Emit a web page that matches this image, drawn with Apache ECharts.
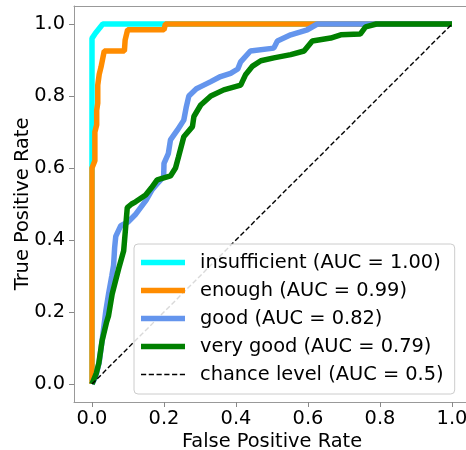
<!DOCTYPE html>
<html>
<head>
<meta charset="utf-8">
<script src="https://cdn.jsdelivr.net/npm/echarts@6/dist/echarts.min.js"></script>
<style>html,body{margin:0;padding:0;background:#fff;overflow:hidden;}#chart{width:466px;height:450px;}</style>
</head>
<body>
<div id="chart"></div>
<script>
const tickValues = [0, 0.2, 0.4, 0.6, 0.8, 1.0];
const seriesNames = ['insufficient (AUC = 1.00)', 'enough (AUC = 0.99)', 'good (AUC = 0.82)', 'very good (AUC = 0.79)', 'chance level (AUC = 0.5)'];

const insufficientFpr = [0, 0, 0.01, 0.03, 1];
const insufficientTpr = [0, 0.96, 0.975, 1, 1];

const enoughFpr = [0, 0, 0.008, 0.008, 0.013, 0.013, 0.016, 0.016, 0.02, 0.025, 0.034, 0.09, 0.092, 0.099, 0.2, 0.204, 1];
const enoughTpr = [0, 0.6, 0.62, 0.7, 0.72, 0.76, 0.78, 0.83, 0.86, 0.88, 0.925, 0.925, 0.955, 0.984, 0.984, 1, 1];

const goodFpr = [0, 0.01, 0.02, 0.028, 0.038, 0.046, 0.055, 0.06, 0.063, 0.066, 0.08, 0.1, 0.12, 0.135, 0.15, 0.167, 0.18, 0.199, 0.2, 0.212, 0.218, 0.237, 0.255, 0.262, 0.269, 0.29, 0.302, 0.33, 0.357, 0.385, 0.405, 0.413, 0.44, 0.505, 0.515, 0.552, 0.598, 0.626, 1];
const goodTpr = [0, 0.02, 0.06, 0.12, 0.2, 0.25, 0.3, 0.33, 0.38, 0.41, 0.44, 0.45, 0.47, 0.49, 0.51, 0.54, 0.555, 0.576, 0.613, 0.64, 0.678, 0.705, 0.733, 0.77, 0.8, 0.82, 0.826, 0.84, 0.854, 0.863, 0.875, 0.895, 0.925, 0.933, 0.953, 0.97, 0.984, 1, 1];

const veryGoodFpr = [0, 0.012, 0.019, 0.028, 0.04, 0.046, 0.056, 0.074, 0.088, 0.093, 0.098, 0.11, 0.121, 0.149, 0.165, 0.181, 0.218, 0.232, 0.24, 0.255, 0.279, 0.283, 0.302, 0.33, 0.366, 0.413, 0.427, 0.446, 0.469, 0.505, 0.552, 0.589, 0.612, 0.663, 0.691, 0.745, 0.76, 0.79, 1];
const veryGoodTpr = [0, 0.03, 0.058, 0.12, 0.17, 0.19, 0.25, 0.32, 0.37, 0.43, 0.49, 0.5, 0.506, 0.525, 0.545, 0.567, 0.578, 0.6, 0.63, 0.687, 0.715, 0.743, 0.775, 0.8, 0.817, 0.83, 0.86, 0.883, 0.898, 0.906, 0.915, 0.925, 0.953, 0.961, 0.97, 0.972, 0.992, 1, 1];

const chanceFpr = [0, 1];
const chanceTpr = [0, 1];

function pairs(xs, ys) { return xs.map((x, i) => [x, ys[i]]); }

const font = 'DejaVu Sans';
const fs = 19.4;
const spine = '#999';
const solidIcon = 'path://M0,0H44V5.5H0Z';
const dashIcon = 'path://M0,0h5v1.4h-5zM7.5,0h5v1.4h-5zM15,0h5v1.4h-5zM22.5,0h5v1.4h-5zM30,0h5v1.4h-5zM37.5,0h5v1.4h-5z';
const chart = echarts.init(document.getElementById('chart'), null, {renderer: 'canvas'});

function curve(name, xs, ys, color, width, type) {
  return {
    name: name, type: 'line', data: pairs(xs, ys), symbol: 'none', showSymbol: false,
    animation: false, silent: true,
    lineStyle: {color: color, width: width, type: type || 'solid'},
    itemStyle: {color: color}
  };
}

chart.setOption({
  animation: false,
  backgroundColor: '#fff',
  grid: {left: 74, top: 6, width: 396, height: 396, containLabel: false, outerBoundsMode: 'none', show: false},
  graphic: [{type: 'rect', left: 462, top: 8, shape: {width: 4, height: 392}, style: {fill: '#fff'}, z: 100, silent: true}],
  xAxis: [{
    type: 'value', min: -0.05, max: 1.05, position: 'bottom',
    name: 'False Positive Rate', nameLocation: 'middle', nameGap: 30, nameMoveOverlap: false,
    nameTextStyle: {fontFamily: font, fontSize: fs, color: '#000'},
    axisLine: {show: true, onZero: false, lineStyle: {color: spine, width: 1}},
    axisTick: {show: true, length: 5, customValues: tickValues, lineStyle: {color: '#888'}},
    axisLabel: {customValues: tickValues, margin: 7, fontFamily: font, fontSize: fs, color: '#000', formatter: v => v.toFixed(1)},
    splitLine: {show: false}
  }, {
    type: 'value', min: -0.05, max: 1.05, position: 'top',
    axisLine: {show: true, onZero: false, lineStyle: {color: spine, width: 1}},
    axisTick: {show: false}, axisLabel: {show: false}, splitLine: {show: false}
  }],
  yAxis: {
    type: 'value', min: -0.05, max: 1.05,
    name: 'True Positive Rate', nameLocation: 'middle', nameGap: 42, nameMoveOverlap: false,
    nameTextStyle: {fontFamily: font, fontSize: fs, color: '#000'},
    axisLine: {show: true, onZero: false, lineStyle: {color: spine, width: 1}},
    axisTick: {show: true, length: 5, customValues: tickValues, lineStyle: {color: '#888'}},
    axisLabel: {customValues: tickValues, margin: 9, fontFamily: font, fontSize: fs, color: '#000', formatter: v => v.toFixed(1)},
    splitLine: {show: false}
  },
  legend: {
    data: seriesNames.map((n, i) => ({name: n, icon: i === 4 ? dashIcon : solidIcon})),
    orient: 'vertical', left: 134, top: 244,
    padding: [9, 11, 10, 7],
    itemWidth: 44, itemHeight: 14, itemGap: 9,
    backgroundColor: 'rgba(255,255,255,0.85)', borderColor: '#ccc', borderWidth: 1, borderRadius: 4,
    textStyle: {fontFamily: font, fontSize: fs, color: '#000', padding: [0, 0, 0, 10]},
    selectedMode: false
  },
  series: [
    curve(seriesNames[0], insufficientFpr, insufficientTpr, '#00ffff', 5.5),
    curve(seriesNames[1], enoughFpr, enoughTpr, '#ff8c00', 5.5),
    curve(seriesNames[2], goodFpr, goodTpr, '#6495ed', 5.5),
    curve(seriesNames[3], veryGoodFpr, veryGoodTpr, '#008000', 5.5),
    curve(seriesNames[4], chanceFpr, chanceTpr, '#000', 1.4, [5, 2.5])
  ]
});
</script>
</body>
</html>
